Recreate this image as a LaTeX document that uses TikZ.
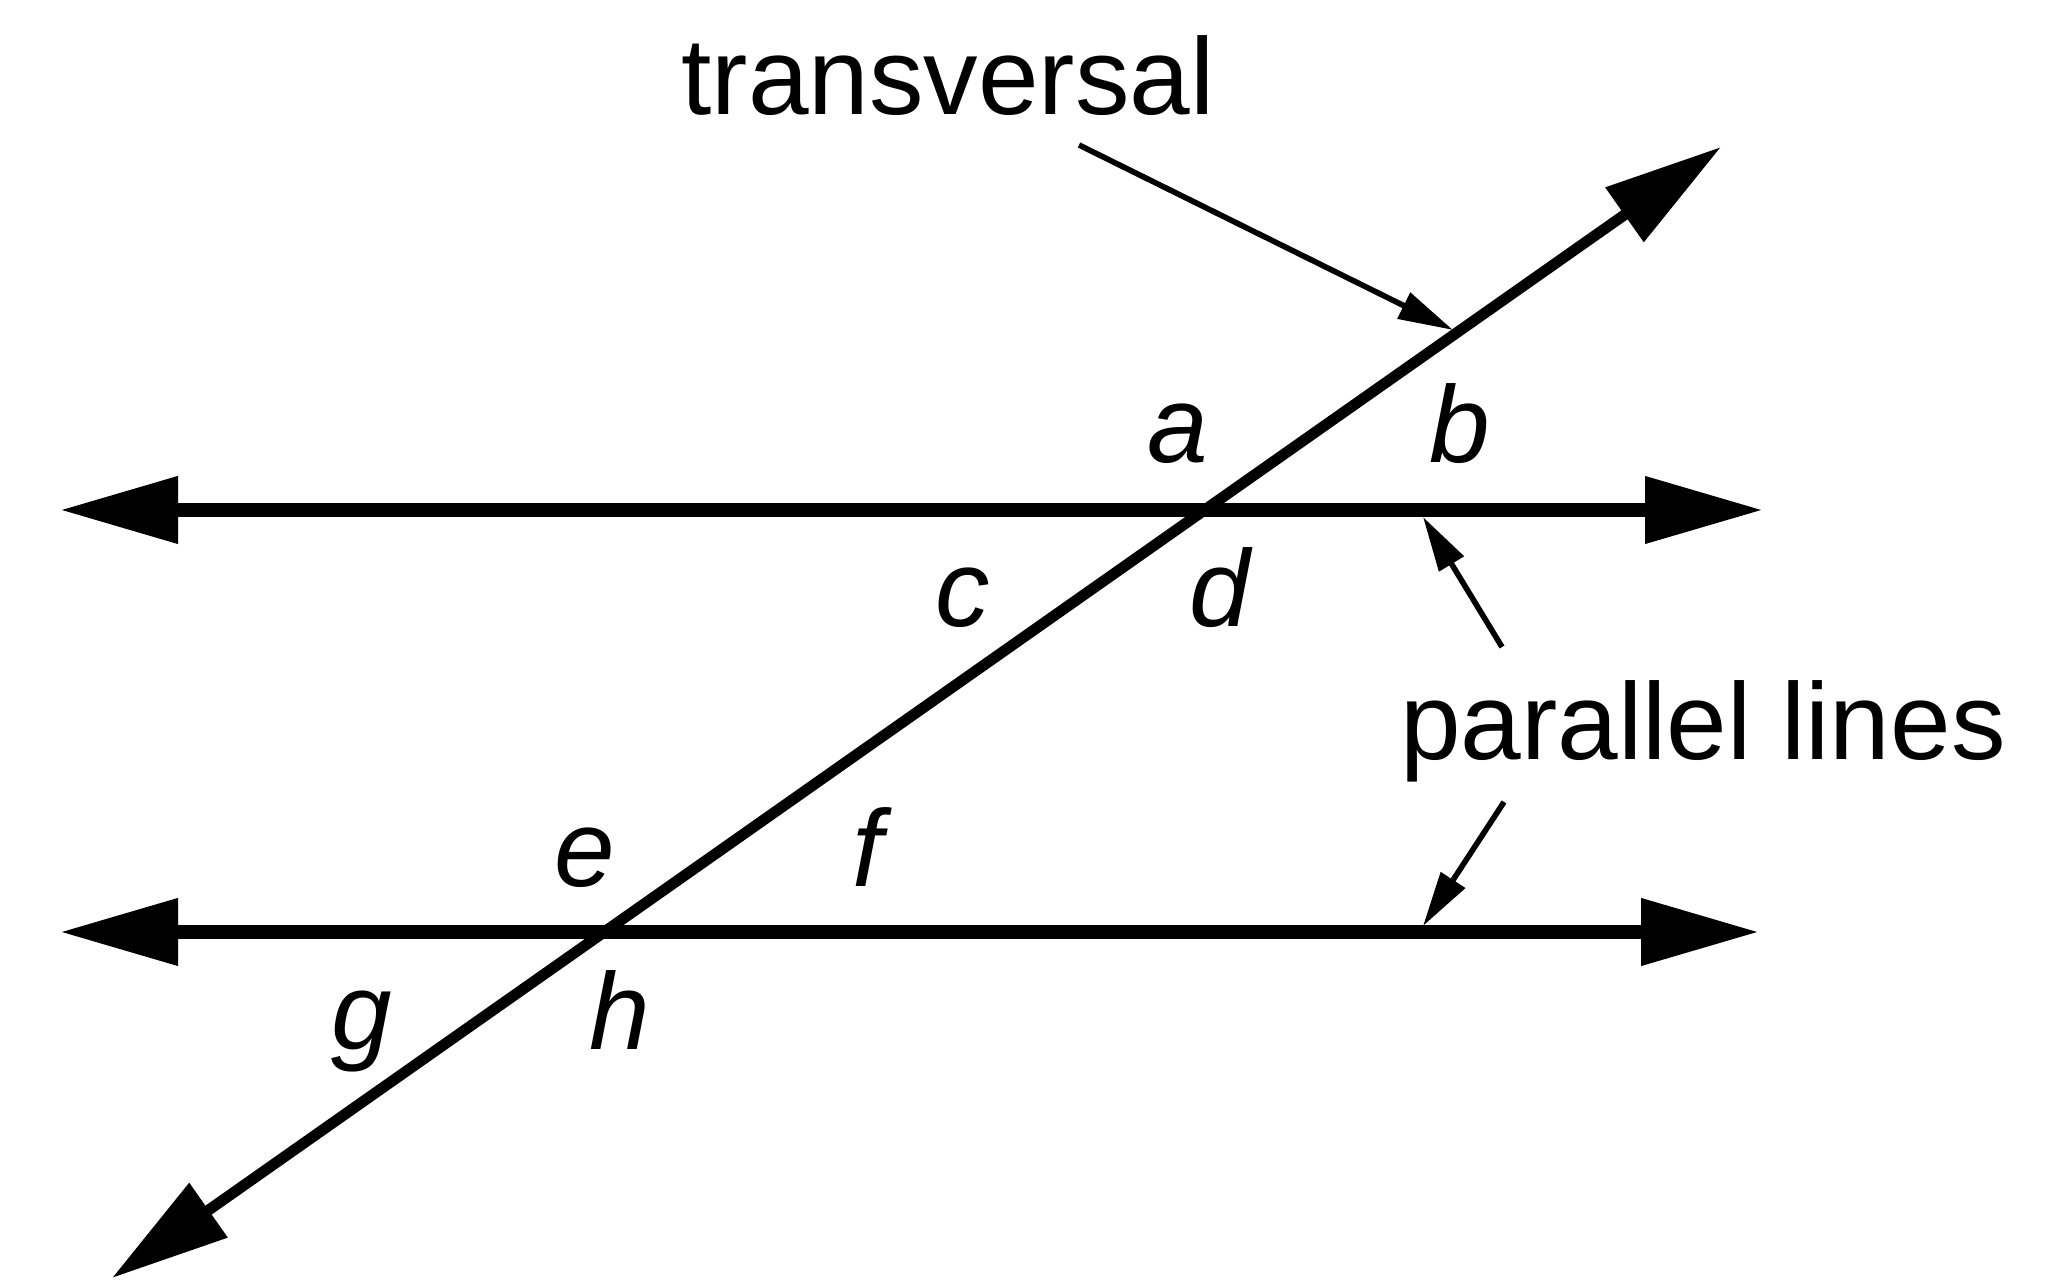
\documentclass[tikz,border=0pt]{standalone}
\usepackage{fontspec}
\setmainfont{Liberation Sans}
\usetikzlibrary{arrows.meta,positioning}

\begin{document}
\begin{tikzpicture}[
  parline/.style={line width=4pt,{Triangle[length=1.18cm,width=0.64cm]}-{Triangle[length=1.18cm,width=0.64cm]}},
  transline/.style={line width=3.1pt,{Triangle[length=1.18cm,width=0.64cm]}-{Triangle[length=1.18cm,width=0.64cm]}},
  pointer/.style={line width=1.6pt,-{Triangle[length=0.55cm,width=0.28cm]}},
  lbl/.style={inner sep=0pt,anchor=base,font=\fontsize{31}{37}\selectfont},
  anglbl/.style={lbl,font=\fontsize{31}{37}\selectfont\itshape}]
\useasboundingbox (0,0) rectangle (20.61,-12.80);

\coordinate (p1l) at (0.60,-5.10);
\coordinate (p1r) at (17.63,-5.10);
\coordinate (p2l) at (0.60,-9.32);
\coordinate (p2r) at (17.59,-9.32);
\coordinate (tlo) at (1.12,-12.78);
\coordinate (thi) at (17.21,-1.47);

\draw[parline] (p1l) -- (p1r);
\draw[parline] (p2l) -- (p2r);
\draw[transline] (tlo) -- (thi);

\node[lbl] (trans) at (9.48,-1.15) {transversal};
\node[lbl] (para) at (17.03,-7.60) {parallel lines};

% angle labels
\node[anglbl] (a) at (11.78,-4.63) {a};
\node[anglbl] (b) at (14.60,-4.63) {b};
\node[anglbl] (c) at (9.63,-6.27) {c};
\node[anglbl] (d) at (12.20,-6.27) {d};
\node[anglbl] (e) at (5.85,-8.87) {e};
\node[anglbl] (f) at (8.68,-8.87) {f};
\node[anglbl] (g) at (3.62,-10.50) {g};
\node[anglbl] (h) at (6.20,-10.50) {h};

% pointers
\coordinate (ts) at (10.79,-1.45);
\coordinate (tt) at (14.53,-3.30);
\coordinate (ps1) at (15.02,-6.47);
\coordinate (pt1) at (14.23,-5.17);
\coordinate (ps2) at (15.04,-8.02);
\coordinate (pt2) at (14.23,-9.26);
\draw[pointer] (ts) -- (tt);
\draw[pointer] (ps1) -- (pt1);
\draw[pointer] (ps2) -- (pt2);
\end{tikzpicture}
\end{document}
